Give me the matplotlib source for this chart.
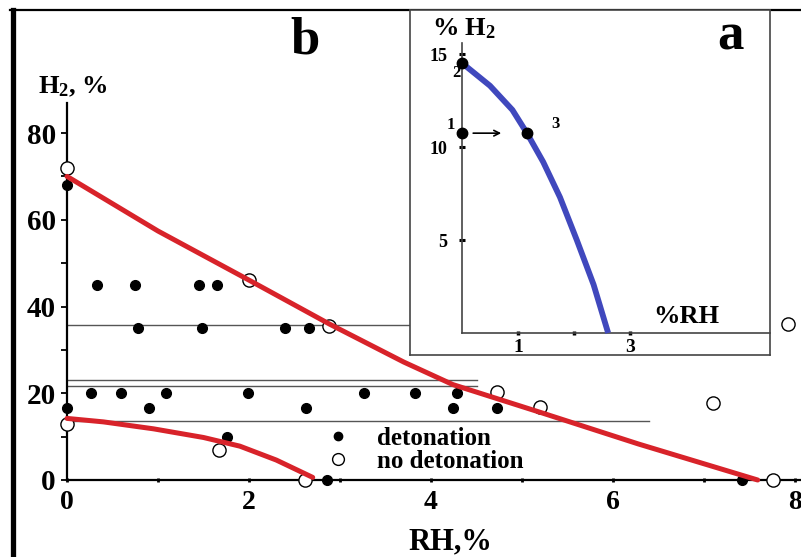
import matplotlib
matplotlib.use("Agg")
import matplotlib.pyplot as plt
from matplotlib.lines import Line2D

plt.rcParams['font.family'] = ['Liberation Serif', 'DejaVu Serif']
plt.rcParams['font.weight'] = 'bold'
plt.rcParams['mathtext.fontset'] = 'custom'
plt.rcParams['mathtext.rm'] = 'Liberation Serif:bold'
plt.rcParams['mathtext.it'] = 'Liberation Serif:bold'
plt.rcParams['mathtext.bf'] = 'Liberation Serif:bold'

# ---------------- data (main panel b) ----------------
det_x = [0.33, 0.75, 1.45, 1.65,
         0.78, 1.48, 2.40, 2.66,
         0.26, 0.59, 1.09, 1.99, 3.26, 3.82, 4.29,
         0.00, 0.90, 2.63, 4.24, 4.72,
         1.76, 2.86, 7.42, 0.00]
det_y = [45, 45, 45, 45,
         35, 35, 35, 35,
         20, 20, 20, 20, 20, 20, 20,
         16.5, 16.5, 16.5, 16.5, 16.5,
         10, 0, 0, 68]

nodet_x = [0.00, 2.00, 2.88, 4.72, 5.20, 7.10, 0.00, 1.67, 2.61, 7.76, 7.92]
nodet_y = [72, 46, 35.5, 20.3, 16.8, 17.7, 13, 6.9, 0, 0, 36]

upper_x = [0, 1.0, 2.06, 2.88, 3.70, 4.24, 5.23, 6.28, 7.59]
upper_y = [70, 57.4, 45.4, 36.0, 27.2, 22.0, 15.4, 8.3, 0]

lower_x = [0, 0.4, 0.95, 1.5, 1.9, 2.3, 2.7]
lower_y = [14.2, 13.4, 11.8, 9.8, 7.8, 4.6, 0.6]

guide_y = [35.7, 23.0, 21.6, 13.7]
guide_xmax = [4.0, 4.5, 4.5, 6.4]

main_xticks = [0, 2, 4, 6, 8]
main_yticks = [0, 20, 40, 60, 80]

# ---------------- data (inset a) ----------------
blue_x = [0.05, 0.5, 0.9, 1.16, 1.45, 1.75, 2.05, 2.35, 2.61]
blue_y = [14.4, 13.3, 12.0, 10.75, 9.2, 7.3, 5.0, 2.6, 0]
pts_x = [0.0, 0.0, 1.16]
pts_y = [14.5, 10.75, 10.75]
pts_lab = ['2', '1', '3']
ins_yticks = [5, 10, 15]
ins_xticks = [1, 2, 3]
ins_xticklabels = ['1', '', '3']

W, H = 801, 557
def fx(px):
    return px / W
def fy(py):
    return 1 - py / H

fig = plt.figure(figsize=(W / 100, H / 100), dpi=100)
fig.patch.set_facecolor('white')

# outer frame lines (top and thick left)
fig.add_artist(Line2D([fx(10), fx(801)], [fy(10), fy(10)], color='black', lw=1.6, zorder=0.5))
fig.add_artist(Line2D([fx(13), fx(13)], [fy(10), fy(557)], color='black', lw=3.8, zorder=0.5))

# ---------------- main axes ----------------
ax = fig.add_axes([fx(67), fy(480), fx(801) - fx(67), fy(103) - fy(480)])
ax.set_zorder(1)
ax.patch.set_visible(False)
ax.set_xlim(0, (801 - 67) / 91.0)
ax.set_ylim(0, (480 - 103) / 4.3375)
for s in ['top', 'right']:
    ax.spines[s].set_visible(False)
ax.spines['left'].set_linewidth(1.6)
ax.spines['bottom'].set_linewidth(1.6)

ax.set_xticks(main_xticks)
ax.set_xticklabels([str(v) for v in main_xticks])
ax.set_xticks([1, 3, 5, 7], minor=True)
ax.set_yticks(main_yticks)
ax.set_yticklabels([str(v) for v in main_yticks])
ax.set_yticks([10, 30, 50, 70], minor=True)
ax.tick_params(axis='x', which='both', direction='inout', length=3, width=2, pad=6,
               labelsize=20)
ax.tick_params(axis='y', which='both', direction='out', length=4, width=1.3, pad=4,
               labelsize=21)

for yv, xm in zip(guide_y, guide_xmax):
    ax.plot([0, xm], [yv, yv], color='#555555', lw=1.0, zorder=1)

ax.plot(upper_x, upper_y, color='#d8232a', lw=3.6, solid_capstyle='round', zorder=4, clip_on=False)
ax.plot(lower_x, lower_y, color='#d8232a', lw=3.6, solid_capstyle='round', zorder=4, clip_on=False)

h_det, = ax.plot(det_x, det_y, 'o', color='black', ms=7, ls='none', zorder=3, clip_on=False,
                 label='detonation')
h_nod, = ax.plot(nodet_x, nodet_y, 'o', mfc='white', mec='black', mew=1.0, ms=9.5, ls='none',
                 zorder=3, clip_on=False, label='no detonation')

leg = ax.legend(handles=[h_det, h_nod], loc='upper left',
                bbox_to_anchor=(fx(327), fy(427)), bbox_transform=fig.transFigure,
                frameon=False, fontsize=18, handlelength=0.9, handletextpad=1.1,
                labelspacing=0.0, borderpad=0, borderaxespad=0)
leg.legend_handles[0].set_markersize(6)
leg.legend_handles[1].set_markersize(8.5)

fig.text(fx(38), fy(93), r'H$_{2}$, %', fontsize=19, fontweight='bold', ha='left', va='baseline')
fig.text(fx(408), fy(549), 'RH,%', fontsize=22, fontweight='bold', ha='left', va='baseline')
fig.text(fx(305), fy(53), 'b', fontsize=38, fontweight='bold', ha='center', va='baseline')

# ---------------- inset (a) ----------------
box = fig.add_axes([fx(410), fy(355), fx(770) - fx(410), fy(10) - fy(355)])
box.set_zorder(2)
box.set_xticks([])
box.set_yticks([])
box.set_facecolor('white')
for s in box.spines.values():
    s.set_color('#444444')
    s.set_linewidth(1.2)

ins = fig.add_axes([fx(462), fy(333), fx(770) - fx(462), fy(43) - fy(333)])
ins.set_zorder(3)
ins.patch.set_visible(False)
ins.set_xlim(0, 5.5)
ins.set_ylim(0, 15.6)
for s in ['top', 'right']:
    ins.spines[s].set_visible(False)
for s in ['left', 'bottom']:
    ins.spines[s].set_color('#444444')
    ins.spines[s].set_linewidth(1.2)
ins.set_yticks(ins_yticks)
ins.set_yticklabels([str(v) for v in ins_yticks])
ins.set_xticks(ins_xticks)
ins.set_xticklabels(ins_xticklabels)
ins.tick_params(axis='y', direction='inout', length=5, width=2.2, pad=8, labelsize=13)
ins.tick_params(axis='x', direction='inout', length=3, width=2.5, pad=3, labelsize=14)

ins.plot(blue_x, blue_y, color='#4048bd', lw=4.2, solid_capstyle='butt', zorder=3, clip_on=False)
ins.plot(pts_x, pts_y, 'o', color='black', ms=7.5, ls='none', zorder=4, clip_on=False)
ins.annotate('', xy=(0.75, pts_y[1]), xytext=(0.15, pts_y[1]),
             arrowprops=dict(arrowstyle='->', color='black', lw=1.2), zorder=4)

fig.text(fx(456), fy(77), pts_lab[0], fontsize=12, fontweight='bold', ha='center', va='baseline', zorder=5)
fig.text(fx(451), fy(129), pts_lab[1], fontsize=12, fontweight='bold', ha='center', va='baseline', zorder=5)
fig.text(fx(555), fy(128), pts_lab[2], fontsize=12, fontweight='bold', ha='center', va='baseline', zorder=5)

fig.text(fx(432), fy(35), r'% H$_{2}$', fontsize=19, fontweight='bold', ha='left', va='baseline', zorder=5)
fig.text(fx(653), fy(323), '%RH', fontsize=19, fontweight='bold', ha='left', va='baseline', zorder=5)
fig.text(fx(730), fy(50), 'a', fontsize=38, fontweight='bold', ha='center', va='baseline', zorder=5)

fig.savefig('out.png', dpi=100, facecolor='white')
